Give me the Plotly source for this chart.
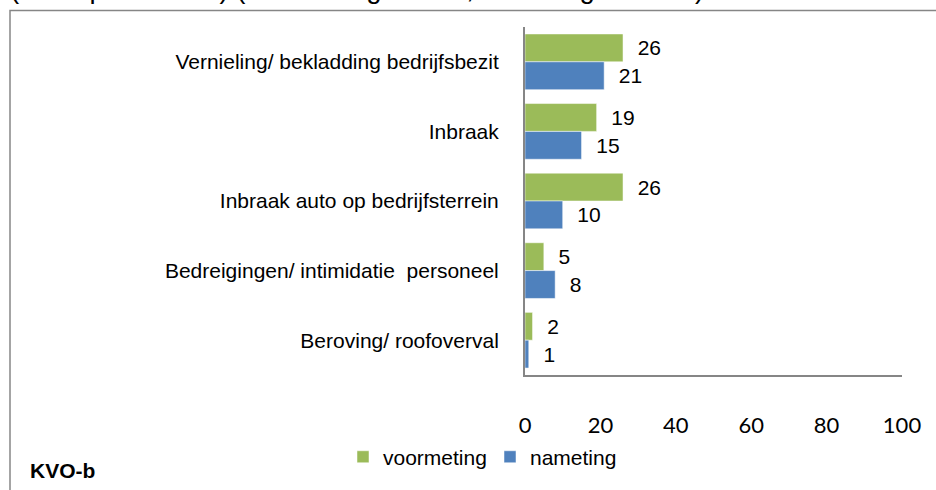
import plotly.graph_objects as go

categories = [
    "Vernieling/ bekladding bedrijfsbezit",
    "Inbraak",
    "Inbraak auto op bedrijfsterrein",
    "Bedreigingen/ intimidatie\u00a0\u00a0personeel",
    "Beroving/ roofoverval",
]
voormeting = [26, 19, 26, 5, 2]
nameting = [21, 15, 10, 8, 1]
x_ticks = [0, 20, 40, 60, 80, 100]

title_text = "(% respondenten) (voormeting n=503, nameting n=1243)"
footer_text = "KVO-b"

green = "#9BBB59"
blue = "#4F81BD"
frame_grey = "#868686"

W, H = 936, 490
# plot area in page pixels: x 525..902, y 27..383
plot_l, plot_r, plot_t, plot_b = 525, 902, 27, 383
pw = plot_r - plot_l
ph = plot_b - plot_t


# page pixel -> paper coordinate
def px_x(px):
    return (px - plot_l) / pw


def px_y(py):
    return (plot_b - py) / ph


fig = go.Figure()
fig.add_trace(
    go.Bar(
        y=categories,
        x=voormeting,
        name="voormeting",
        orientation="h",
        marker=dict(color=green, line=dict(color="white", width=0.5)),
        texttemplate="\u00a0\u00a0%{x}",
        textposition="outside",
        textfont=dict(family="Liberation Sans, Arial", size=21, color="black"),
        constraintext="none",
        cliponaxis=False,
    )
)
fig.add_trace(
    go.Bar(
        y=categories,
        x=nameting,
        name="nameting",
        orientation="h",
        marker=dict(color=blue, line=dict(color="white", width=0.5)),
        texttemplate="\u00a0\u00a0%{x}",
        textposition="outside",
        textfont=dict(family="Liberation Sans, Arial", size=21, color="black"),
        constraintext="none",
        cliponaxis=False,
    )
)

# outer frame (right and bottom edges are off the page)
fig.add_shape(
    type="rect",
    xref="paper",
    yref="paper",
    x0=px_x(10),
    y0=px_y(10),
    x1=px_x(990),
    y1=px_y(540),
    line=dict(color=frame_grey, width=1.5),
    layer="below",
)

# title, partly cut off at the top of the page
fig.add_annotation(
    xref="paper",
    yref="paper",
    x=px_x(8),
    y=px_y(6),
    xanchor="left",
    yanchor="bottom",
    text=title_text,
    showarrow=False,
    font=dict(family="Liberation Sans, Arial", size=27.5, color="black"),
)

fig.add_annotation(
    xref="paper",
    yref="paper",
    x=px_x(28),
    y=px_y(481),
    xanchor="left",
    yanchor="middle",
    text="<b>" + footer_text + "</b>",
    showarrow=False,
    font=dict(family="Liberation Sans, Arial", size=21, color="black"),
)

fig.update_layout(
    width=W,
    height=H,
    margin=dict(l=plot_l, r=W - plot_r, t=plot_t, b=H - plot_b, pad=0),
    paper_bgcolor="white",
    plot_bgcolor="white",
    barmode="group",
    bargap=0.2,
    bargroupgap=0,
    showlegend=True,
    legend=dict(
        orientation="h",
        x=px_x(343),
        y=px_y(467),
        xanchor="left",
        yanchor="middle",
        traceorder="normal",
        entrywidth=102,
        entrywidthmode="pixels",
        font=dict(family="Liberation Sans, Arial", size=21, color="black"),
        bgcolor="rgba(0,0,0,0)",
    ),
    xaxis=dict(
        range=[0, 100],
        tickvals=x_ticks,
        showgrid=False,
        zeroline=False,
        showline=True,
        linecolor=frame_grey,
        linewidth=2,
        ticks="",
        ticklabelstandoff=30,
        tickfont=dict(family="Lato", size=22, color="black"),
        fixedrange=True,
    ),
    yaxis=dict(
        autorange="reversed",
        showgrid=False,
        zeroline=False,
        showline=True,
        linecolor=frame_grey,
        linewidth=2,
        ticks="",
        ticklabelstandoff=20,
        tickfont=dict(family="Liberation Sans, Arial", size=21, color="black"),
    ),
)

# drop the default body margin so the figure sits at the page corner
fig.write_html(
    "out.html",
    config={"displayModeBar": False},
    post_script="document.body.style.margin = '0';",
)
